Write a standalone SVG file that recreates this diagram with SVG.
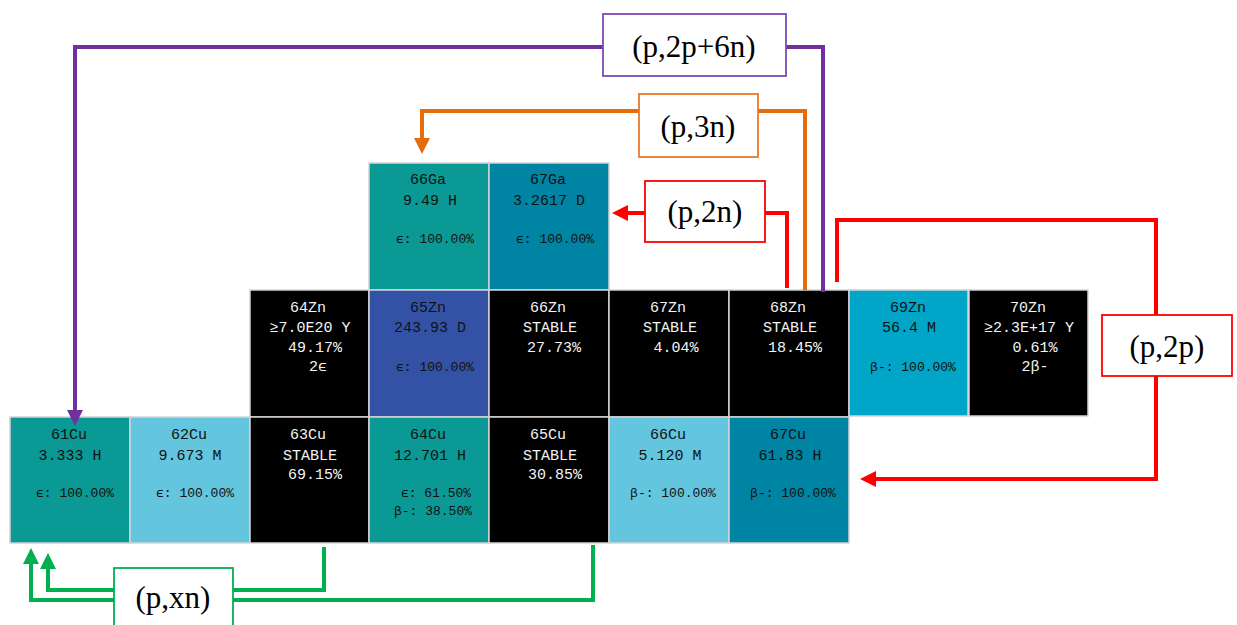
<svg xmlns="http://www.w3.org/2000/svg" width="1237" height="625" viewBox="0 0 1237 625">
<defs>
<style>
.cell{stroke:#d4d4d4;stroke-width:1.5}
.t{font-family:"Liberation Mono","DejaVu Sans Mono",monospace;font-size:15px;text-anchor:middle}
.d{font-size:13px}
.w{fill:#f4f4f4}
.k{fill:#111}
.teal{fill:#0a9994}
.lb{fill:#64c5de}
.dt{fill:#0084a4}
.blu{fill:#3352a5}
.cy{fill:#00a5c7}
.blk{fill:#000}
.ln{fill:none;stroke-width:4;stroke-linejoin:miter}
.box{fill:#fff;stroke-width:1.8}
.lbl{font-family:"Liberation Serif","Times New Roman",serif;font-size:31px;text-anchor:middle;fill:#000}
</style>
<marker id="aP" markerUnits="userSpaceOnUse" viewBox="0 0 16 16" refX="0" refY="8" markerWidth="16" markerHeight="16" orient="auto"><path d="M0,0 L16,8 L0,16 z" fill="#7030a0"/></marker>
<marker id="aO" markerUnits="userSpaceOnUse" viewBox="0 0 16 16" refX="0" refY="8" markerWidth="16" markerHeight="16" orient="auto"><path d="M0,0 L16,8 L0,16 z" fill="#e46c0a"/></marker>
<marker id="aR" markerUnits="userSpaceOnUse" viewBox="0 0 16 16" refX="0" refY="8" markerWidth="16" markerHeight="16" orient="auto"><path d="M0,0 L16,8 L0,16 z" fill="#ff0000"/></marker>
<marker id="aG" markerUnits="userSpaceOnUse" viewBox="0 0 16 16" refX="0" refY="8" markerWidth="16" markerHeight="16" orient="auto"><path d="M0,0 L16,8 L0,16 z" fill="#00b050"/></marker>
</defs>
<rect width="1237" height="625" fill="#fff"/>

<!-- Ga row -->
<g id="n-66Ga"><rect class="cell teal" x="369" y="163" width="120" height="127"/>
<text class="t k" x="428" y="184">66Ga</text><text class="t k" x="430" y="205">9.49 H</text><text class="t d k" x="435" y="243">ϵ: 100.00%</text></g>
<g id="n-67Ga"><rect class="cell dt" x="489" y="163" width="120" height="127"/>
<text class="t k" x="548" y="184">67Ga</text><text class="t k" x="549" y="205">3.2617 D</text><text class="t d k" x="555" y="243">ϵ: 100.00%</text></g>

<!-- Zn row -->
<g id="n-64Zn"><rect class="cell blk" x="250" y="290" width="119" height="127"/>
<text class="t w" x="308" y="312">64Zn</text><text class="t w" x="310" y="332">≥7.0E20 Y</text><text class="t w" x="315" y="352">49.17%</text><text class="t w" x="318" y="371">2ϵ</text></g>
<g id="n-65Zn"><rect class="cell blu" x="369" y="290" width="120" height="127"/>
<text class="t k" x="428" y="312">65Zn</text><text class="t k" x="430" y="332">243.93 D</text><text class="t d k" x="435" y="371">ϵ: 100.00%</text></g>
<g id="n-66Zn"><rect class="cell blk" x="489" y="290" width="120" height="127"/>
<text class="t w" x="548" y="312">66Zn</text><text class="t w" x="550" y="332">STABLE</text><text class="t w" x="554" y="352">27.73%</text></g>
<g id="n-67Zn"><rect class="cell blk" x="609" y="290" width="120" height="127"/>
<text class="t w" x="668" y="312">67Zn</text><text class="t w" x="670" y="332">STABLE</text><text class="t w" x="676" y="352">4.04%</text></g>
<g id="n-68Zn"><rect class="cell blk" x="729" y="290" width="120" height="127"/>
<text class="t w" x="788" y="312">68Zn</text><text class="t w" x="790" y="332">STABLE</text><text class="t w" x="795" y="352">18.45%</text></g>
<g id="n-69Zn"><rect class="cell cy" x="849" y="290" width="119" height="126"/>
<text class="t k" x="908" y="312">69Zn</text><text class="t k" x="909" y="332">56.4 M</text><text class="t d k" x="913" y="371">β-: 100.00%</text></g>
<g id="n-70Zn"><rect class="cell blk" x="969" y="290" width="119" height="126"/>
<text class="t w" x="1028" y="312">70Zn</text><text class="t w" x="1029" y="332">≥2.3E+17 Y</text><text class="t w" x="1035" y="352">0.61%</text><text class="t w" x="1035" y="371">2β-</text></g>

<!-- Cu row -->
<g id="n-61Cu"><rect class="cell teal" x="10" y="417" width="120" height="126"/>
<text class="t k" x="69" y="439">61Cu</text><text class="t k" x="70" y="460">3.333 H</text><text class="t d k" x="75" y="497">ϵ: 100.00%</text></g>
<g id="n-62Cu"><rect class="cell lb" x="130" y="417" width="120" height="126"/>
<text class="t k" x="189" y="439">62Cu</text><text class="t k" x="190" y="460">9.673 M</text><text class="t d k" x="195" y="497">ϵ: 100.00%</text></g>
<g id="n-63Cu"><rect class="cell blk" x="250" y="417" width="119" height="126"/>
<text class="t w" x="308" y="439">63Cu</text><text class="t w" x="310" y="460">STABLE</text><text class="t w" x="315" y="479">69.15%</text></g>
<g id="n-64Cu"><rect class="cell teal" x="369" y="417" width="120" height="126"/>
<text class="t k" x="428" y="439">64Cu</text><text class="t k" x="430" y="460">12.701 H</text><text class="t d k" x="436" y="497">ϵ: 61.50%</text><text class="t d k" x="433" y="515">β-: 38.50%</text></g>
<g id="n-65Cu"><rect class="cell blk" x="489" y="417" width="120" height="126"/>
<text class="t w" x="548" y="439">65Cu</text><text class="t w" x="550" y="460">STABLE</text><text class="t w" x="555" y="479">30.85%</text></g>
<g id="n-66Cu"><rect class="cell lb" x="609" y="417" width="120" height="126"/>
<text class="t k" x="668" y="439">66Cu</text><text class="t k" x="670" y="460">5.120 M</text><text class="t d k" x="673" y="497">β-: 100.00%</text></g>
<g id="n-67Cu"><rect class="cell dt" x="729" y="417" width="120" height="126"/>
<text class="t k" x="788" y="439">67Cu</text><text class="t k" x="790" y="460">61.83 H</text><text class="t d k" x="793" y="497">β-: 100.00%</text></g>

<!-- connectors -->
<g id="connectors">
<path class="ln" stroke="#7030a0" d="M823 292 V47 H75 V410" marker-end="url(#aP)"/>
<path class="ln" stroke="#e46c0a" d="M805 290 V111 H422 V138" marker-end="url(#aO)"/>
<path class="ln" stroke="#ff0000" d="M787 288 V213 H628" marker-end="url(#aR)"/>
<path class="ln" stroke="#ff0000" d="M837 282 V220 H1156 V479 H876" marker-end="url(#aR)"/>
<path class="ln" stroke="#00b050" d="M324 547 V590 H48 V569" marker-end="url(#aG)"/>
<path class="ln" stroke="#00b050" d="M593 545 V600 H31 V564" marker-end="url(#aG)"/>
</g>

<!-- edge labels -->
<g id="label-p2p6n"><rect class="box" x="603" y="14" width="183" height="62" stroke="#8048b8"/><text class="lbl" x="694" y="57">(p,2p+6n)</text></g>
<g id="label-p3n"><rect class="box" x="639" y="94" width="119" height="63" stroke="#e8782a"/><text class="lbl" x="698" y="137">(p,3n)</text></g>
<g id="label-p2n"><rect class="box" x="645" y="181" width="120" height="61" stroke="#ff0000"/><text class="lbl" x="705" y="222">(p,2n)</text></g>
<g id="label-p2p"><rect class="box" x="1102" y="315" width="130" height="61" stroke="#ff0000"/><text class="lbl" x="1167" y="357">(p,2p)</text></g>
<g id="label-pxn"><rect class="box" x="114" y="568" width="119" height="70" stroke="#00b050"/><text class="lbl" x="173" y="608">(p,xn)</text></g>
</svg>
